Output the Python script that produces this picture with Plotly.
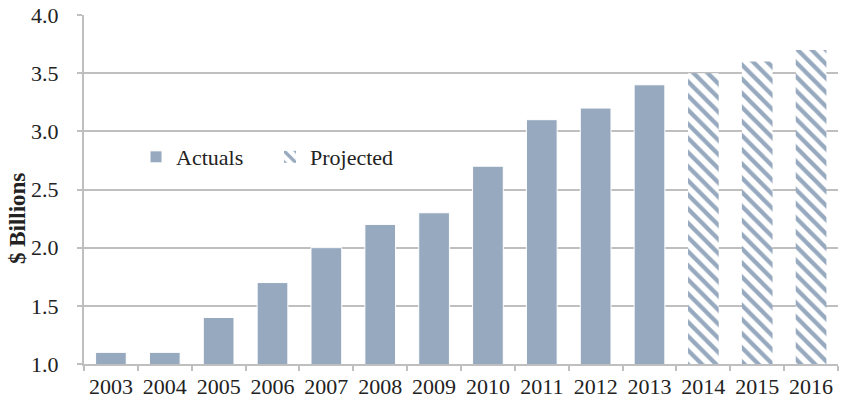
import plotly.graph_objects as go

years = ["2003", "2004", "2005", "2006", "2007", "2008", "2009", "2010",
         "2011", "2012", "2013", "2014", "2015", "2016"]
actual_years = years[:11]
actual_values = [1.1, 1.1, 1.4, 1.7, 2.0, 2.2, 2.3, 2.7, 3.1, 3.2, 3.4]
projected_years = years[11:]
projected_values = [3.5, 3.6, 3.7]
y_ticks = [1.0, 1.5, 2.0, 2.5, 3.0, 3.5, 4.0]
y_title = "$ Billions"

BAR = "#97A9BE"
GRID = "#BFBFBF"
FONT = "Liberation Serif"

fig = go.Figure()
fig.add_trace(go.Bar(
    x=actual_years, y=actual_values, name="Actuals",
    marker=dict(color=BAR, line=dict(color="white", width=1)),
))
fig.add_trace(go.Bar(
    x=projected_years, y=projected_values, name="Projected",
    marker=dict(color="white", line=dict(width=0),
                pattern=dict(shape="\\", fgcolor=BAR, bgcolor="white", fgopacity=1,
                             size=10, solidity=0.42, fillmode="replace")),
))

fig.add_annotation(
    text="<b>" + y_title + "</b>", xref="paper", yref="paper",
    x=-0.0889, y=0.418, xanchor="center", yanchor="middle",
    textangle=-90, showarrow=False,
    font=dict(family=FONT, size=23, color="#222222"),
)

fig.update_layout(
    width=842, height=405,
    margin=dict(l=84, r=4, t=15, b=41, autoexpand=False),
    plot_bgcolor="white", paper_bgcolor="white",
    barmode="overlay", bargap=0.43,
    font=dict(family=FONT, size=22, color="#222222"),
    showlegend=True,
    legend=dict(orientation="h", x=0.069, y=0.593, xanchor="left", yanchor="middle",
                font=dict(family=FONT, size=22, color="#222222"),
                bgcolor="rgba(255,255,255,0)", itemwidth=30, tracegroupgap=0,
                entrywidth=89, entrywidthmode="pixels"),
    xaxis=dict(
        type="category", categoryorder="array", categoryarray=years,
        showline=True, linecolor=GRID, linewidth=2, automargin=False,
        ticks="outside", tickson="boundaries", ticklen=5, tickcolor=GRID, tickwidth=2,
        showgrid=False, tickfont=dict(family=FONT, size=22), ticklabelstandoff=2,
        tickangle=0,
    ),
    yaxis=dict(
        range=[1.0, 4.0], tickvals=y_ticks, tickformat=".1f", automargin=False,
        showline=True, linecolor=GRID, linewidth=2,
        ticks="outside", ticklen=5, tickcolor=GRID, tickwidth=2,
        showgrid=True, gridcolor=GRID, gridwidth=2, zeroline=False,
        tickfont=dict(family=FONT, size=22), ticklabelstandoff=14,
    ),
)

fig.write_html("out.html", config={"displayModeBar": False},
               post_script="document.body.style.margin='0';document.body.style.overflow='hidden';")
